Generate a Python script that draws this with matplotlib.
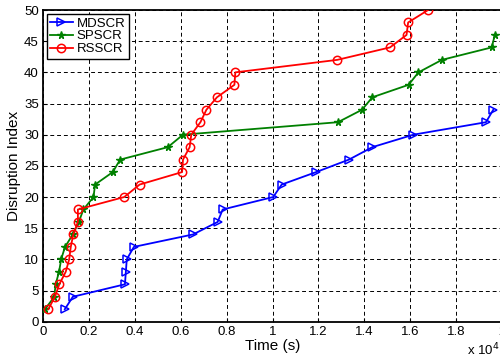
import numpy as np
import matplotlib
matplotlib.use('Agg')
import matplotlib.pyplot as plt

# время в единицах 10^4 с, индекс разрушения
md_t = [0.095, 0.13, 0.357, 0.361, 0.365, 0.396, 0.654, 0.761, 0.783, 1.003,
        1.04, 1.19, 1.333, 1.435, 1.614, 1.93, 1.962]
md_y = [2, 4, 6, 8, 10, 12, 14, 16, 18, 20, 22, 24, 26, 28, 30, 32, 34]

sp_t = [0.009, 0.049, 0.055, 0.07, 0.079, 0.096, 0.13, 0.156, 0.176, 0.22,
        0.227, 0.304, 0.336, 0.544, 0.61, 1.285, 1.39, 1.435, 1.593, 1.636,
        1.738, 1.955, 1.969]
sp_y = [2, 4, 6, 8, 10, 12, 14, 16, 18, 20, 22, 24, 26, 28, 30, 32, 34, 36,
        38, 40, 42, 44, 46]

rs_t = [0.023, 0.052, 0.071, 0.099, 0.114, 0.121, 0.132, 0.152, 0.152, 0.354,
        0.421, 0.606, 0.61, 0.639, 0.646, 0.686, 0.712, 0.758, 0.834, 0.838,
        1.282, 1.512, 1.584, 1.591, 1.678]
rs_y = [2, 4, 6, 8, 10, 12, 14, 16, 18, 20, 22, 24, 26, 28, 30, 32, 34, 36,
        38, 40, 42, 44, 46, 48, 50]

xticks = [0, 0.2, 0.4, 0.6, 0.8, 1, 1.2, 1.4, 1.6, 1.8, 2]
xlabels = ['0', '0.2', '0.4', '0.6', '0.8', '1', '1.2', '1.4', '1.6', '1.8', '2']
yticks = list(range(0, 51, 5))

plt.rcParams['font.family'] = ['Liberation Sans', 'DejaVu Sans']

fig = plt.figure(figsize=(5, 3.6), dpi=100)
ax = fig.add_axes([0.086, 0.1064, 0.918, 0.8658])

ax.plot(md_t, md_y, color='#0000ff', lw=1.3, marker='>', ms=6, mfc='none',
        mew=1.1, label='MDSCR', zorder=3)
ax.plot(sp_t, sp_y, color='#008000', lw=1.3, marker='*', ms=5.5,
        label='SPSCR', zorder=3)
ax.plot(rs_t, rs_y, color='#ff0000', lw=1.3, marker='o', ms=6, mfc='none',
        mew=1.1, label='RSSCR', zorder=3)

ax.set_xlim(0, 2)
ax.set_ylim(0, 50)
ax.set_xticks(xticks)
ax.set_xticklabels(xlabels)
ax.set_yticks(yticks)
ax.tick_params(direction='in', labelsize=9.5, length=3, pad=3)
ax.grid(True, color='black', ls=(0, (4, 3)), lw=0.7)
for s in ax.spines.values():
    s.set_linewidth(1.3)

ax.set_xlabel('Time (s)', fontsize=11, labelpad=1)
ax.set_ylabel('Disruption Index', fontsize=11, labelpad=2)
ax.text(0.9935, -0.091, 'x 10$^4$', transform=ax.transAxes, fontsize=9.5,
        ha='right', va='center')

leg = ax.legend(loc='upper left', fontsize=9.5, handlelength=1.7,
                borderpad=0.25, labelspacing=0.05, handletextpad=0.3,
                borderaxespad=0.3, fancybox=False, framealpha=1)
leg.get_frame().set_edgecolor('black')
leg.get_frame().set_linewidth(1.0)

fig.savefig('out.png', dpi=100)
